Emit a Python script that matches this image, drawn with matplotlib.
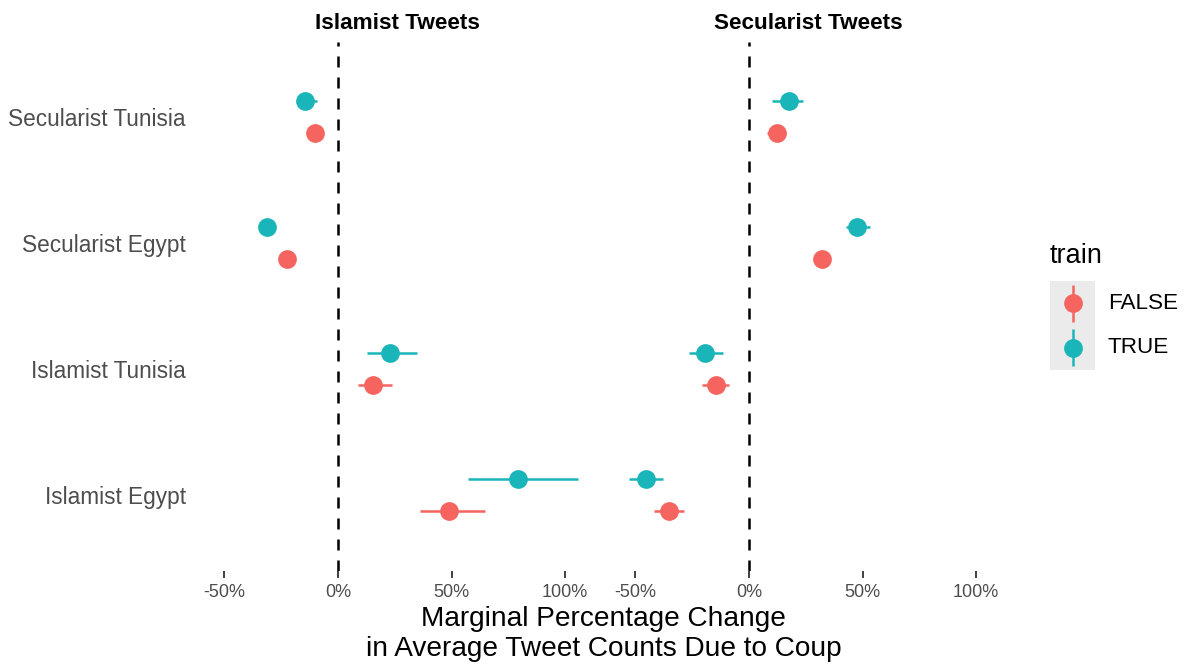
import matplotlib.pyplot as plt
from matplotlib.ticker import FuncFormatter, FixedLocator

# estimates (percent change) and 95% intervals, per facet
categories = ["Islamist Egypt", "Islamist Tunisia", "Secularist Egypt", "Secularist Tunisia"]
facets = ["Islamist Tweets", "Secularist Tweets"]

isl_false_est = [49.0, 15.5, -22.4, -10.1]
isl_false_lo = [36.1, 8.7, -24.0, -11.5]
isl_false_hi = [64.6, 23.6, -20.8, -8.7]
isl_true_est = [79.3, 22.9, -31.2, -14.4]
isl_true_lo = [57.2, 12.6, -32.8, -16.5]
isl_true_hi = [105.8, 34.9, -29.6, -9.4]

sec_false_est = [-35.3, -14.6, 32.2, 12.3]
sec_false_lo = [-41.9, -20.8, 30.0, 8.1]
sec_false_hi = [-28.4, -8.7, 34.4, 16.0]
sec_true_est = [-45.4, -19.5, 47.5, 17.4]
sec_true_lo = [-52.6, -26.5, 42.8, 10.3]
sec_true_hi = [-38.0, -11.6, 53.4, 23.6]

x_ticks = [-50, 0, 50, 100]
groups = ["FALSE", "TRUE"]
colors = {"FALSE": "#F5645F", "TRUE": "#1AB5B9"}

panel_data = {
    "Islamist Tweets": {
        "FALSE": (isl_false_est, isl_false_lo, isl_false_hi),
        "TRUE": (isl_true_est, isl_true_lo, isl_true_hi),
    },
    "Secularist Tweets": {
        "FALSE": (sec_false_est, sec_false_lo, sec_false_hi),
        "TRUE": (sec_true_est, sec_true_lo, sec_true_hi),
    },
}

plt.rcParams["font.family"] = ["Liberation Sans", "DejaVu Sans"]

W, H = 1187, 666
fig = plt.figure(figsize=(W / 100, H / 100), dpi=100)

xlim = (-61.5, 113.5)
px_per_unit = 2.272
panel_w = (xlim[1] - xlim[0]) * px_per_unit
panel_top, panel_bottom = 41.5, 570.5
zero_px = [338, 749]

dodge = {"FALSE": -0.125, "TRUE": 0.125}
axes = []
for i, facet in enumerate(facets):
    left_px = zero_px[i] + xlim[0] * px_per_unit
    ax = fig.add_axes([left_px / W, 1 - panel_bottom / H, panel_w / W,
                       (panel_bottom - panel_top) / H])
    axes.append(ax)
    for g in groups:
        est, lo, hi = panel_data[facet][g]
        ys = [k + 1 + dodge[g] for k in range(len(categories))]
        ax.hlines(ys, lo, hi, color=colors[g], lw=1.8, zorder=2)
        ax.plot(est, ys, "o", color=colors[g], ms=13.5, mew=0, zorder=3)
    ax.axvline(0, color="black", lw=1.8, linestyle=(0, (4.4, 4.0)), zorder=1)
    ax.set_xlim(*xlim)
    ax.set_ylim(0.4, 4.6)
    for s in ax.spines.values():
        s.set_visible(False)
    ax.xaxis.set_major_locator(FixedLocator(x_ticks))
    ax.xaxis.set_major_formatter(FuncFormatter(lambda v, p: f"{v:.0f}%"))
    ax.tick_params(axis="x", length=5, width=1.3, color="#333333",
                   labelsize=13, labelcolor="#4D4D4D", pad=5)
    ax.set_yticks(range(1, len(categories) + 1))
    if i == 0:
        ax.set_yticklabels(categories)
        ax.tick_params(axis="y", length=0, labelsize=16.3, labelcolor="#4D4D4D", pad=9)
    else:
        ax.set_yticklabels([])
        ax.tick_params(axis="y", length=0)
    ax.set_title(facet, fontsize=16.2, fontweight="bold", pad=9)

fig.text(603.5 / W, 1 - 634 / H,
         "Marginal Percentage Change\nin Average Tweet Counts Due to Coup",
         ha="center", va="center", fontsize=20.2, linespacing=1.2)

# legend drawn by hand: grey key box with point-range glyphs
fig.text(1050 / W, 1 - 256 / H, "train", fontsize=19.5, va="center", ha="left")
kx0, ky0, kw, kh = 1050, 281, 45, 89
kax = fig.add_axes([kx0 / W, 1 - (ky0 + kh) / H, kw / W, kh / H])
kax.set_facecolor("#EBEBEB")
kax.set_xlim(0, 1)
kax.set_ylim(0, 2)
for s in kax.spines.values():
    s.set_visible(False)
kax.set_xticks([])
kax.set_yticks([])
for j, g in enumerate(groups):
    yc = 1.5 - j
    kax.vlines(0.5, yc - 0.42, yc + 0.42, color=colors[g], lw=1.8)
    kax.plot(0.5, yc, "o", color=colors[g], ms=13.5, mew=0)
    fig.text(1108 / W, 1 - (ky0 + kh * (0.25 + 0.5 * j)) / H, g,
             fontsize=16.2, va="center", ha="left")

fig.savefig("out.png", dpi=100, facecolor="white")
